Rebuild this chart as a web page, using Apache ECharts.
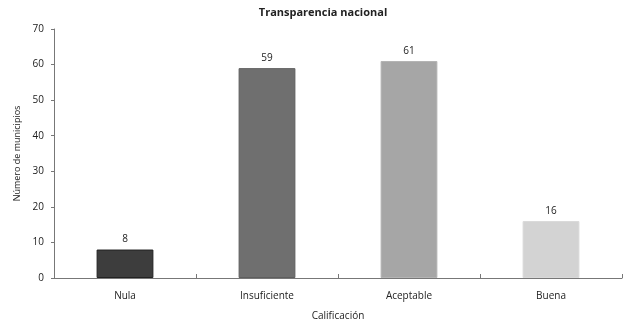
<!DOCTYPE html>
<html><head><meta charset="utf-8">
<script src="https://cdn.jsdelivr.net/npm/echarts@6/dist/echarts.min.js"></script>
<style>html,body{margin:0;padding:0;background:#fff}#c{width:624px;height:326px}</style>
</head><body><div id="c"></div>
<script>
const categories = ["Nula", "Insuficiente", "Aceptable", "Buena"];
const values = [8, 59, 61, 16];
const barColors = ["#3d3d3d", "#6f6f6f", "#a6a6a6", "#d3d3d3"];
const borderColors = ["#222222", "#5e5e5e", "#b4b4b4", "#d9d9d9"];
const yTicks = [0, 10, 20, 30, 40, 50, 60, 70];

const font = "Open Sans";
const chart = echarts.init(document.getElementById('c'), null, {renderer: 'canvas'});
chart.setOption({
  animation: false,
  title: {
    text: "Transparencia nacional", left: 318, top: 2, textAlign: 'center',
    textStyle: {fontFamily: font, fontSize: 11, fontWeight: 'bold', color: '#222'}
  },
  grid: {left: 54, right: 2, top: 29, bottom: 47},
  xAxis: {
    type: 'category', data: categories,
    name: "Calificación", nameLocation: 'middle', nameGap: 33,
    nameTextStyle: {fontFamily: font, fontSize: 10, color: '#222'},
    axisLine: {lineStyle: {color: '#777', width: 1}},
    axisTick: {show: true, inside: true, length: 4, alignWithLabel: false, lineStyle: {color: '#777'}},
    axisLabel: {fontFamily: font, fontSize: 10, color: '#222', margin: 13}
  },
  yAxis: {
    type: 'value', min: yTicks[0], max: yTicks[yTicks.length - 1], interval: 10,
    name: "Número de municipios", nameLocation: 'middle', nameGap: 32,
    nameTextStyle: {fontFamily: font, fontSize: 9, color: '#222'},
    axisLine: {show: true, lineStyle: {color: '#777', width: 1}},
    axisTick: {show: true, length: 3, lineStyle: {color: '#777'}},
    axisLabel: {fontFamily: font, fontSize: 10, color: '#222', margin: 10},
    splitLine: {show: false}
  },
  series: [{
    type: 'bar', barWidth: '40%',
    data: values.map((v, i) => ({value: v, itemStyle: {color: barColors[i], borderColor: borderColors[i], borderWidth: 1}})),
    label: {show: true, position: 'top', distance: 5, fontFamily: font, fontSize: 10, color: '#222'}
  }]
});
</script></body></html>
